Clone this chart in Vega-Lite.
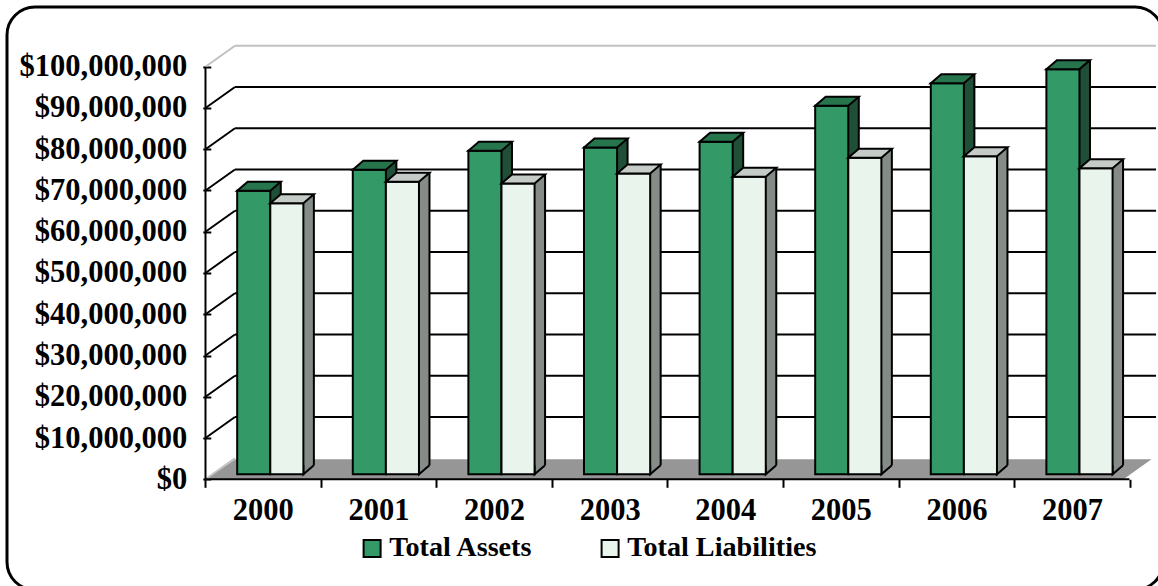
{
  "$schema": "https://vega.github.io/schema/vega-lite/v6.json",
  "width": 1156,
  "height": 583,
  "autosize": {"type": "none"},
  "padding": {"left": 7, "top": 7, "right": 0, "bottom": 0},
  "background": "white",
  "config": {
    "view": {"stroke": "#000", "strokeWidth": 3, "cornerRadius": 28, "fill": "white"},
    "font": "Liberation Serif",
    "axisX": {
      "orient": "bottom",
      "offset": -110.7,
      "domain": false,
      "grid": false,
      "tickBand": "extent",
      "tickColor": "#000",
      "tickWidth": 2,
      "tickSize": 8,
      "labelAngle": 0,
      "labelFont": "Liberation Serif",
      "labelFontWeight": "bold",
      "labelFontSize": 30.5,
      "labelColor": "#000",
      "labelPadding": 8
    },
    "axisY": {
      "offset": -203.8,
      "domain": false,
      "grid": false,
      "tickColor": "#000",
      "tickWidth": 2,
      "tickSize": 8,
      "labelFont": "Liberation Serif",
      "labelFontWeight": "bold",
      "labelFontSize": 30.5,
      "labelColor": "#000",
      "labelPadding": 16,
      "labelOverlap": false
    }
  },
  "datasets": {
    "balances": [
      {"year": "2000", "series": "Total Assets", "value": 68700000},
      {"year": "2000", "series": "Total Liabilities", "value": 65700000},
      {"year": "2001", "series": "Total Assets", "value": 73800000},
      {"year": "2001", "series": "Total Liabilities", "value": 70900000},
      {"year": "2002", "series": "Total Assets", "value": 78400000},
      {"year": "2002", "series": "Total Liabilities", "value": 70500000},
      {"year": "2003", "series": "Total Assets", "value": 79200000},
      {"year": "2003", "series": "Total Liabilities", "value": 72900000},
      {"year": "2004", "series": "Total Assets", "value": 80600000},
      {"year": "2004", "series": "Total Liabilities", "value": 72100000},
      {"year": "2005", "series": "Total Assets", "value": 89300000},
      {"year": "2005", "series": "Total Liabilities", "value": 76700000},
      {"year": "2006", "series": "Total Assets", "value": 94800000},
      {"year": "2006", "series": "Total Liabilities", "value": 77100000},
      {"year": "2007", "series": "Total Assets", "value": 98200000},
      {"year": "2007", "series": "Total Liabilities", "value": 74200000}
    ],
    "grid": [
      {"v": 10000000}, {"v": 20000000}, {"v": 30000000}, {"v": 40000000}, {"v": 50000000},
      {"v": 60000000}, {"v": 70000000}, {"v": 80000000}, {"v": 90000000}
    ],
    "edges": [{"v": 0}, {"v": 100000000}]
  },
  "layer": [
    {
      "data": {"name": "edges"},
      "transform": [{"filter": "datum.v === 0"}],
      "mark": {"type": "point", "shape": "M0,0 L918,0 L946,-20 L30,-20 Z", "size": 4, "filled": true, "fill": "#969696", "strokeWidth": 0, "opacity": 1, "xOffset": -57.38},
      "encoding": {
        "x": {"datum": "2000", "type": "nominal", "title": null},
        "y": {"field": "v", "type": "quantitative", "title": null}
      }
    },
    {
      "data": {"name": "grid"},
      "mark": {"type": "rule", "color": "#000", "strokeWidth": 2, "xOffset": -27.9, "x2Offset": 84, "yOffset": -21},
      "encoding": {
        "x": {"datum": "2000", "type": "nominal", "title": null},
        "x2": {"datum": "2007"},
        "y": {"field": "v", "type": "quantitative", "title": null}
      }
    },
    {
      "data": {"name": "edges"},
      "transform": [{"filter": "datum.v === 100000000"}],
      "mark": {"type": "rule", "color": "#c0c0c0", "strokeWidth": 2, "xOffset": -27.9, "x2Offset": 84, "yOffset": -21},
      "encoding": {
        "x": {"datum": "2000", "type": "nominal", "title": null},
        "x2": {"datum": "2007"},
        "y": {"field": "v", "type": "quantitative", "title": null}
      }
    },
    {
      "data": {"name": "grid"},
      "mark": {"type": "rule", "color": "#000", "strokeWidth": 2, "xOffset": -57.38, "x2Offset": -27.9, "y2Offset": -21},
      "encoding": {
        "x": {"datum": "2000", "type": "nominal", "title": null},
        "x2": {"datum": "2000"},
        "y": {"field": "v", "type": "quantitative", "title": null},
        "y2": {"field": "v"}
      }
    },
    {
      "data": {"name": "edges"},
      "mark": {"type": "rule", "color": "#c0c0c0", "strokeWidth": 2, "xOffset": -57.38, "x2Offset": -27.9, "y2Offset": -21},
      "encoding": {
        "x": {"datum": "2000", "type": "nominal", "title": null},
        "x2": {"datum": "2000"},
        "y": {"field": "v", "type": "quantitative", "title": null},
        "y2": {"field": "v"}
      }
    },
    {
      "data": {"name": "edges"},
      "transform": [{"filter": "datum.v === 0"}],
      "mark": {"type": "rule", "color": "#000", "strokeWidth": 2, "xOffset": -57.38},
      "encoding": {
        "x": {"datum": "2000", "type": "nominal", "title": null},
        "y": {"field": "v", "type": "quantitative", "title": null},
        "y2": {"datum": 100000000}
      }
    },
    {
      "data": {"name": "edges"},
      "transform": [{"filter": "datum.v === 0"}],
      "mark": {"type": "rule", "color": "#000", "strokeWidth": 2, "xOffset": -57.38, "x2Offset": 57.38},
      "encoding": {
        "x": {"datum": "2000", "type": "nominal", "title": null},
        "x2": {"datum": "2007"},
        "y": {"field": "v", "type": "quantitative", "title": null}
      }
    },
    {
      "data": {"name": "balances"},
      "transform": [{"filter": "datum.series === 'Total Assets'"}],
      "mark": {"type": "bar", "width": 10.5, "xOffset": 12.67, "yOffset": -14, "y2Offset": -14, "fill": "#1f4f36", "strokeWidth": 0},
      "encoding": {
        "x": {"field": "year", "type": "nominal", "title": null},
        "y": {"field": "value", "type": "quantitative", "title": null},
        "y2": {"datum": 0}
      }
    },
    {
      "data": {"name": "balances"},
      "transform": [{"filter": "datum.series === 'Total Assets'"}],
      "mark": {"type": "rule", "color": "#000", "strokeWidth": 2, "xOffset": 17.92, "yOffset": -14, "y2Offset": -14},
      "encoding": {
        "x": {"field": "year", "type": "nominal", "title": null},
        "y": {"field": "value", "type": "quantitative", "title": null},
        "y2": {"datum": 0}
      }
    },
    {
      "data": {"name": "balances"},
      "transform": [{"filter": "datum.series === 'Total Assets'"}],
      "mark": {"type": "bar", "width": 33.1, "xOffset": -9.13, "yOffset": -5, "y2Offset": -5, "stroke": "#000", "strokeWidth": 2},
      "encoding": {
        "x": {
          "field": "year",
          "type": "nominal",
          "title": null,
          "scale": {
            "type": "band",
            "domain": ["2000", "2001", "2002", "2003", "2004", "2005", "2006", "2007"],
            "paddingInner": 0,
            "paddingOuter": 1.0365,
            "align": 0.8567
          }
        },
        "y": {
          "field": "value",
          "type": "quantitative",
          "title": null,
          "scale": {"domain": [-26830000, 114469000], "nice": false, "zero": false},
          "axis": {
            "values": [0, 10000000, 20000000, 30000000, 40000000, 50000000, 60000000, 70000000, 80000000, 90000000, 100000000],
            "format": "$,.0f"
          }
        },
        "y2": {"datum": 0},
        "color": {
          "field": "series",
          "type": "nominal",
          "scale": {"domain": ["Total Assets", "Total Liabilities"], "range": ["#339966", "#e9f4ed"]},
          "legend": {
            "title": null,
            "orient": "none",
            "legendX": 351,
            "legendY": 527,
            "direction": "horizontal",
            "symbolType": "square",
            "symbolSize": 289,
            "symbolStrokeColor": "#000",
            "symbolStrokeWidth": 2,
            "symbolOpacity": 1,
            "labelFont": "Liberation Serif",
            "labelFontWeight": "bold",
            "labelFontSize": 28.2,
            "labelColor": "#000",
            "labelOffset": 3,
            "labelLimit": 400,
            "columnPadding": 62,
            "padding": 0
          }
        }
      }
    },
    {
      "data": {"name": "balances"},
      "transform": [{"filter": "datum.series === 'Total Assets'"}],
      "mark": {"type": "point", "shape": "M0,0 L33.1,0 L43.6,-9 L10.5,-9 Z", "size": 4, "filled": true, "fill": "#26754c", "stroke": "#000", "strokeWidth": 2, "opacity": 1, "xOffset": -25.68, "yOffset": -5},
      "encoding": {
        "x": {"field": "year", "type": "nominal", "title": null},
        "y": {"field": "value", "type": "quantitative", "title": null}
      }
    },
    {
      "data": {"name": "balances"},
      "transform": [{"filter": "datum.series === 'Total Liabilities'"}],
      "mark": {"type": "bar", "width": 10.5, "xOffset": 45.75, "yOffset": -14, "y2Offset": -14, "fill": "#858c88", "strokeWidth": 0},
      "encoding": {
        "x": {"field": "year", "type": "nominal", "title": null},
        "y": {"field": "value", "type": "quantitative", "title": null},
        "y2": {"datum": 0}
      }
    },
    {
      "data": {"name": "balances"},
      "transform": [{"filter": "datum.series === 'Total Liabilities'"}],
      "mark": {"type": "point", "shape": "M10.5,-9 L0,0 L0,-9", "size": 4, "filled": true, "fill": "#858c88", "stroke": "#000", "strokeWidth": 2, "opacity": 1, "xOffset": 40.5, "yOffset": -5},
      "encoding": {
        "x": {"field": "year", "type": "nominal", "title": null},
        "y": {"datum": 0, "type": "quantitative", "title": null}
      }
    },
    {
      "data": {"name": "balances"},
      "transform": [{"filter": "datum.series === 'Total Liabilities'"}],
      "mark": {"type": "rule", "color": "#000", "strokeWidth": 2, "xOffset": 51, "yOffset": -14, "y2Offset": -14},
      "encoding": {
        "x": {"field": "year", "type": "nominal", "title": null},
        "y": {"field": "value", "type": "quantitative", "title": null},
        "y2": {"datum": 0}
      }
    },
    {
      "data": {"name": "balances"},
      "transform": [{"filter": "datum.series === 'Total Liabilities'"}],
      "mark": {"type": "bar", "width": 33.1, "xOffset": 23.96, "yOffset": -5, "y2Offset": -5, "stroke": "#000", "strokeWidth": 2},
      "encoding": {
        "x": {"field": "year", "type": "nominal", "title": null},
        "y": {"field": "value", "type": "quantitative", "title": null},
        "y2": {"datum": 0},
        "color": {
          "field": "series",
          "type": "nominal",
          "scale": {"domain": ["Total Assets", "Total Liabilities"], "range": ["#339966", "#e9f4ed"]}
        }
      }
    },
    {
      "data": {"name": "balances"},
      "transform": [{"filter": "datum.series === 'Total Liabilities'"}],
      "mark": {"type": "point", "shape": "M0,0 L33.1,0 L43.6,-9 L10.5,-9 Z", "size": 4, "filled": true, "fill": "#c5ccc7", "stroke": "#000", "strokeWidth": 2, "opacity": 1, "xOffset": 7.42, "yOffset": -5},
      "encoding": {
        "x": {"field": "year", "type": "nominal", "title": null},
        "y": {"field": "value", "type": "quantitative", "title": null}
      }
    }
  ]
}
